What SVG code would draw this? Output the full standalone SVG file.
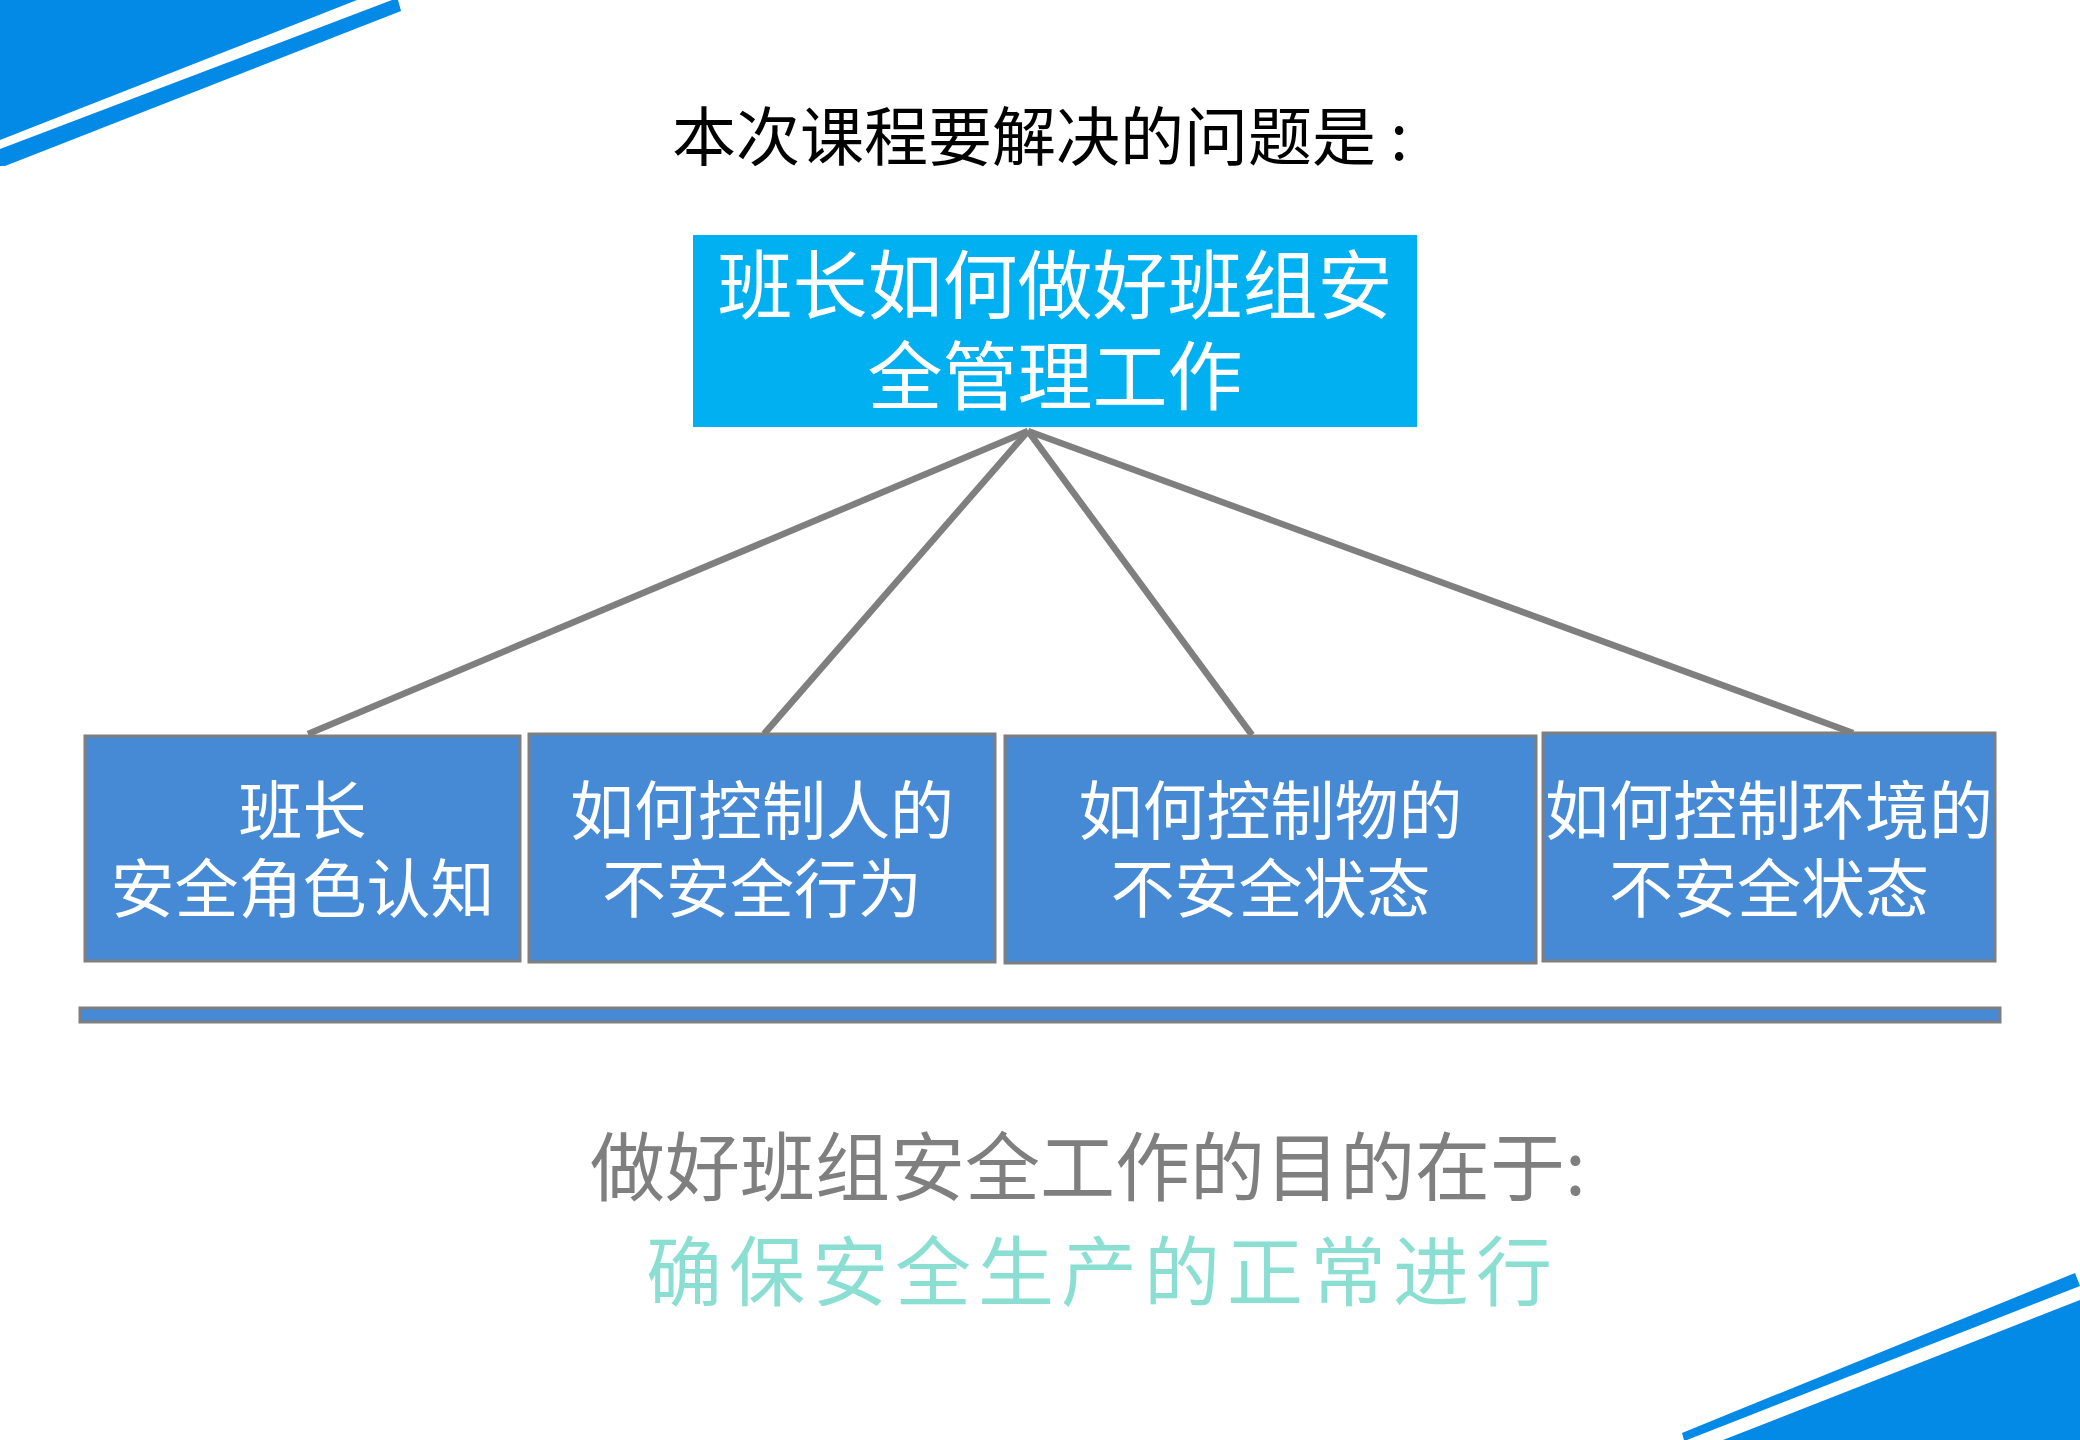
<svg xmlns="http://www.w3.org/2000/svg" width="2080" height="1440" viewBox="0 0 2080 1440">
<style>
.cjk{font-family:"Noto Sans CJK SC","Noto Sans",sans-serif}
.deco{fill:#0389E6}
.node rect{fill:#468AD6;stroke:#7F7F7F;stroke-width:3}
.ntext{fill:#FFFFFF;font-size:64px;text-anchor:middle}
.conn line{stroke:#7F7F7F;stroke-width:6.5;stroke-linecap:butt}
</style>
<rect x="0" y="0" width="2080" height="1440" fill="#FFFFFF"/>
<g id="decor">
<polygon class="deco" points="0,0 357,0 0,140"/>
<polygon class="deco" points="0,149 392,0 398,0 401,11 5,166 0,166"/>
<polygon class="deco" points="2080,1300 2080,1440 1723,1440"/>
<polygon class="deco" points="1682,1433 2075,1273 2080,1286 1687,1440 1684,1440"/>
</g>
<text id="title" class="cjk" x="672" y="160" font-size="64" fill="#000000">本次课程要解决的问题是 :</text>
<g id="conn" class="conn">
<line x1="1028" y1="431" x2="308" y2="734"/>
<line x1="1028" y1="431" x2="764" y2="734"/>
<line x1="1028" y1="431" x2="1252" y2="735"/>
<line x1="1028" y1="431" x2="1853" y2="733"/>
</g>
<g id="root">
<rect x="693" y="235" width="724" height="192" fill="#00B0F0"/>
<text class="cjk" x="1055" y="313" font-size="75" fill="#FFFFFF" text-anchor="middle">班长如何做好班组安</text>
<text class="cjk" x="1055" y="404" font-size="75" fill="#FFFFFF" text-anchor="middle">全管理工作</text>
</g>
<g id="n1" class="node">
<rect x="85" y="736" width="435" height="225"/>
<text class="cjk ntext" x="302.5" y="834">班长</text>
<text class="cjk ntext" x="302.5" y="912">安全角色认知</text>
</g>
<g id="n2" class="node">
<rect x="529" y="734" width="466" height="228"/>
<text class="cjk ntext" x="762" y="834">如何控制人的</text>
<text class="cjk ntext" x="762" y="912">不安全行为</text>
</g>
<g id="n3" class="node">
<rect x="1005" y="736" width="531" height="227"/>
<text class="cjk ntext" x="1270.5" y="834">如何控制物的</text>
<text class="cjk ntext" x="1270.5" y="912">不安全状态</text>
</g>
<g id="n4" class="node">
<rect x="1543" y="733" width="452" height="228"/>
<text class="cjk ntext" x="1769" y="834">如何控制环境的</text>
<text class="cjk ntext" x="1769" y="912">不安全状态</text>
</g>
<g id="bar" class="node">
<rect x="80" y="1008" width="1920" height="14"/>
</g>
<text id="purpose" class="cjk" x="590" y="1195" font-size="75" fill="#7F7F7F">做好班组安全工作的目的在于:</text>
<text id="goal" class="cjk" x="646" y="1300" font-size="76" letter-spacing="7" fill="#8ADFD2">确保安全生产的正常进行</text>
</svg>
